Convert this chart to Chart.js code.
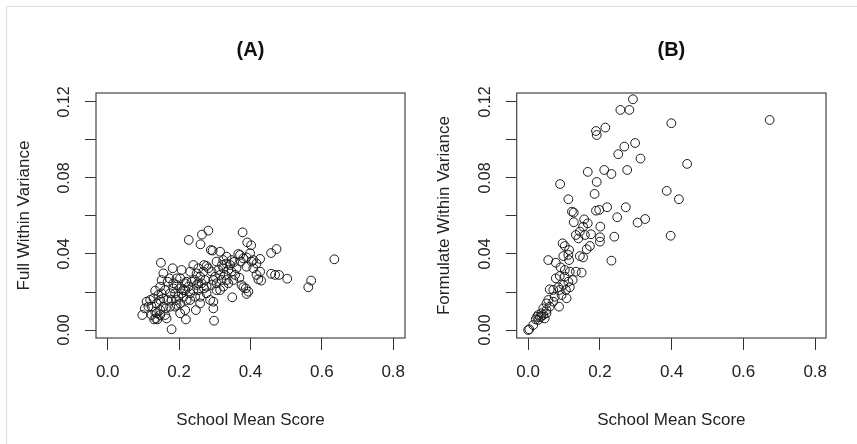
<!DOCTYPE html>
<html>
<head>
<meta charset="utf-8">
<script src="https://cdn.jsdelivr.net/npm/chart.js@4.4.1/dist/chart.umd.min.js"></script>
<style>
  html, body { margin: 0; padding: 0; background: #fff; }
  #page { position: relative; width: 857px; height: 444px; overflow: hidden; }
  #frame { position: absolute; left: 6px; top: 6px; width: 900px; height: 500px; border: 1px solid #ddd; }
  .panel { position: absolute; top: 0; height: 444px; }
</style>
</head>
<body>
<div id="page">
  <div id="frame"></div>
  <div class="panel" style="left:0;width:428px"><canvas id="chartA"></canvas></div>
  <div class="panel" style="left:420px;width:437px"><canvas id="chartB"></canvas></div>
</div>
<script>
(function () {
    "use strict";

    // panel (A): school mean score vs full within variance
    const schoolMeanA = [
        0.635, 0.570, 0.562, 0.503, 0.473, 0.458, 0.458, 0.469, 0.480, 0.427,
        0.427, 0.430, 0.422, 0.417, 0.403, 0.408, 0.378, 0.391, 0.402, 0.399,
        0.389, 0.380, 0.366, 0.373, 0.389, 0.394, 0.389, 0.387, 0.380, 0.369,
        0.375, 0.349, 0.354, 0.343, 0.333, 0.338, 0.324, 0.315, 0.329, 0.333,
        0.319, 0.310, 0.315, 0.296, 0.298, 0.296, 0.291, 0.287, 0.282, 0.264,
        0.260, 0.227, 0.289, 0.294, 0.277, 0.282, 0.273, 0.259, 0.270, 0.249,
        0.240, 0.231, 0.249, 0.259, 0.247, 0.219, 0.217, 0.207, 0.203, 0.221,
        0.212, 0.198, 0.203, 0.189, 0.179, 0.182, 0.173, 0.168, 0.156, 0.149,
        0.151, 0.147, 0.133, 0.165, 0.167, 0.163, 0.147, 0.137, 0.135, 0.139,
        0.130, 0.123, 0.109, 0.104, 0.097, 0.156, 0.175, 0.184, 0.193, 0.189,
        0.203, 0.217, 0.226, 0.235, 0.244, 0.254, 0.263, 0.240, 0.231, 0.212,
        0.221, 0.245, 0.231, 0.254, 0.277, 0.301, 0.305, 0.296, 0.315, 0.324,
        0.347, 0.357, 0.352, 0.361, 0.338, 0.291, 0.268, 0.254, 0.193, 0.184,
        0.179, 0.193, 0.175, 0.156, 0.151, 0.161, 0.142, 0.128, 0.119, 0.114,
        0.123, 0.133, 0.147, 0.161, 0.193, 0.207, 0.217, 0.147, 0.137, 0.203,
        0.259, 0.277, 0.305, 0.324, 0.270, 0.305, 0.320, 0.333, 0.347, 0.371,
        0.408, 0.417
    ];
    const fullVarA = [
        0.0372, 0.0260, 0.0225, 0.0270, 0.0426, 0.0405, 0.0296, 0.0290, 0.0290, 0.0374,
        0.0307, 0.0260, 0.0267, 0.0350, 0.0360, 0.0325, 0.0514, 0.0461, 0.0446, 0.0404,
        0.0382, 0.0377, 0.0400, 0.0360, 0.0333, 0.0202, 0.0190, 0.0219, 0.0225, 0.0275,
        0.0237, 0.0172, 0.0358, 0.0342, 0.0350, 0.0316, 0.0368, 0.0412, 0.0290, 0.0263,
        0.0263, 0.0316, 0.0210, 0.0114, 0.0049, 0.0149, 0.0237, 0.0158, 0.0523, 0.0502,
        0.0451, 0.0474, 0.0421, 0.0418, 0.0337, 0.0325, 0.0263, 0.0280, 0.0219, 0.0237,
        0.0342, 0.0307, 0.0298, 0.0175, 0.0105, 0.0056, 0.0105, 0.0316, 0.0272, 0.0254,
        0.0210, 0.0175, 0.0140, 0.0123, 0.0004, 0.0325, 0.0272, 0.0254, 0.0298, 0.0354,
        0.0263, 0.0228, 0.0207, 0.0061, 0.0158, 0.0114, 0.0158, 0.0140, 0.0061, 0.0056,
        0.0056, 0.0079, 0.0149, 0.0114, 0.0079, 0.0167, 0.0193, 0.0219, 0.0237, 0.0193,
        0.0219, 0.0246, 0.0228, 0.0254, 0.0263, 0.0246, 0.0246, 0.0210, 0.0193, 0.0175,
        0.0158, 0.0175, 0.0158, 0.0210, 0.0228, 0.0280, 0.0246, 0.0263, 0.0290, 0.0325,
        0.0307, 0.0290, 0.0263, 0.0325, 0.0246, 0.0307, 0.0307, 0.0325, 0.0272, 0.0246,
        0.0158, 0.0132, 0.0123, 0.0123, 0.0193, 0.0210, 0.0184, 0.0167, 0.0158, 0.0123,
        0.0123, 0.0096, 0.0105, 0.0079, 0.0158, 0.0193, 0.0210, 0.0079, 0.0088, 0.0088,
        0.0140, 0.0193, 0.0210, 0.0228, 0.0342, 0.0360, 0.0342, 0.0386, 0.0368, 0.0395,
        0.0368, 0.0290
    ];

    // panel (B): school mean score vs formulate within variance
    const schoolMeanB = [
        0.292, 0.257, 0.282, 0.673, 0.399, 0.189, 0.191, 0.215, 0.298, 0.268,
        0.251, 0.313, 0.443, 0.166, 0.212, 0.232, 0.276, 0.089, 0.191, 0.185,
        0.386, 0.420, 0.112, 0.122, 0.127, 0.189, 0.198, 0.220, 0.272, 0.248,
        0.305, 0.326, 0.397, 0.240, 0.201, 0.200, 0.200, 0.232, 0.127, 0.156,
        0.166, 0.153, 0.133, 0.144, 0.158, 0.175, 0.140, 0.172, 0.163, 0.153,
        0.144, 0.096, 0.102, 0.114, 0.112, 0.114, 0.098, 0.056, 0.077, 0.090,
        0.102, 0.116, 0.133, 0.149, 0.077, 0.088, 0.102, 0.112, 0.124, 0.098,
        0.084, 0.060, 0.070, 0.088, 0.105, 0.116, 0.093, 0.074, 0.056, 0.107,
        0.086, 0.051, 0.060, 0.070, 0.042, 0.051, 0.037, 0.025, 0.033, 0.042,
        0.021, 0.028, 0.046, 0.037, 0.014, 0.000, 0.003, 0.051, 0.028
    ];
    const formVarB = [
        0.1214, 0.1158, 0.1158, 0.1105, 0.1088, 0.1047, 0.1026, 0.1065, 0.0984, 0.0965,
        0.0925, 0.0902, 0.0874, 0.0832, 0.0842, 0.0821, 0.0842, 0.0768, 0.0779, 0.0716,
        0.0732, 0.0688, 0.0688, 0.0623, 0.0618, 0.0628, 0.0632, 0.0646, 0.0646, 0.0593,
        0.0565, 0.0584, 0.0496, 0.0491, 0.0544, 0.0488, 0.0465, 0.0365, 0.0567, 0.0582,
        0.0561, 0.0544, 0.0500, 0.0518, 0.0500, 0.0504, 0.0482, 0.0442, 0.0425, 0.0382,
        0.0389, 0.0456, 0.0442, 0.0421, 0.0395, 0.0368, 0.0389, 0.0368, 0.0354, 0.0330,
        0.0316, 0.0307, 0.0307, 0.0302, 0.0272, 0.0284, 0.0281, 0.0254, 0.0263, 0.0237,
        0.0225, 0.0214, 0.0211, 0.0211, 0.0211, 0.0225, 0.0184, 0.0175, 0.0158, 0.0167,
        0.0123, 0.0140, 0.0123, 0.0149, 0.0114, 0.0105, 0.0088, 0.0070, 0.0067, 0.0079,
        0.0056, 0.0053, 0.0061, 0.0074, 0.0026, 0.0000, 0.0004, 0.0088, 0.0079
    ];

    const yLabelTicks = [0, 0.04, 0.08, 0.12];
    const xLabel = "School Mean Score";
    const fontName = "'Liberation Sans', Arial, sans-serif";

    // draws the R-style box and the rotated y tick labels
    const rAxesPlugin = {
        id: "rAxes",
        afterDraw(chart) {
            const ctx = chart.ctx;
            const area = chart.chartArea;
            const yScale = chart.scales.y;
            ctx.save();
            ctx.strokeStyle = "#444";
            ctx.lineWidth = 1.2;
            ctx.strokeRect(area.left, area.top, area.right - area.left, area.bottom - area.top);
            ctx.fillStyle = "#222";
            ctx.font = "16px " + fontName;
            ctx.textAlign = "center";
            ctx.textBaseline = "middle";
            yLabelTicks.forEach(v => {
                const py = yScale.getPixelForValue(v);
                ctx.save();
                ctx.translate(area.left - 31, py);
                ctx.rotate(-Math.PI / 2);
                ctx.fillText(v.toFixed(2), 0, 0);
                ctx.restore();
            });
            ctx.restore();
        },
    };

    function createScatter(canvasId, title, yTitle, xs, ys, box) {
        const ctx = document.getElementById(canvasId);
        if (!ctx) return;

        const points = xs.map((x, i) => ({ x: x, y: ys[i] }));

        return new Chart(ctx.getContext("2d"), {
            type: "scatter",
            data: {
                datasets: [
                    {
                        data: points,
                        pointStyle: "circle",
                        pointRadius: 4.4,
                        pointBorderWidth: 1,
                        pointBorderColor: "#1a1a1a",
                        pointBackgroundColor: "rgba(0,0,0,0)",
                        pointHoverRadius: 4.4,
                    },
                ],
            },
            options: {
                responsive: true,
                maintainAspectRatio: false,
                animation: false,
                events: [],
                layout: { padding: { left: 0, right: box.right, top: 0, bottom: 0 } },
                plugins: {
                    legend: { display: false },
                    tooltip: { enabled: false },
                    title: {
                        display: true,
                        text: title,
                        fullSize: false,
                        color: "#111",
                        font: { family: fontName, size: 20, weight: "bold" },
                        padding: { top: 38, bottom: 31 },
                    },
                },
                scales: {
                    x: {
                        type: "linear",
                        min: box.xMin,
                        max: box.xMax,
                        border: { display: false },
                        grid: { drawOnChartArea: false, drawTicks: true, tickLength: 12, color: "#333", lineWidth: 1 },
                        ticks: {
                            stepSize: 0.2,
                            includeBounds: false,
                            padding: 12,
                            color: "#222",
                            font: { family: fontName, size: 17 },
                            callback: v => v.toFixed(1),
                        },
                        title: {
                            display: true,
                            text: xLabel,
                            color: "#222",
                            font: { family: fontName, size: 17 },
                            padding: { top: 0, bottom: 13 },
                        },
                        afterFit: scale => { scale.height = 106; },
                    },
                    y: {
                        type: "linear",
                        min: -0.0042,
                        max: 0.1247,
                        border: { display: false },
                        grid: { drawOnChartArea: false, drawTicks: true, tickLength: 11, color: "#333", lineWidth: 1 },
                        ticks: { stepSize: 0.02, includeBounds: false, display: false },
                        title: {
                            display: true,
                            text: yTitle,
                            color: "#222",
                            font: { family: fontName, size: 17 },
                            padding: { top: box.left - 72 - 10.2, bottom: 0 },
                        },
                        afterFit: scale => { scale.width = box.left; },
                    },
                },
            },
            plugins: [rAxesPlugin],
        });
    }

    createScatter("chartA", "(A)", "Full Within Variance", schoolMeanA, fullVarA,
        { left: 96, right: 23, xMin: -0.0328, xMax: 0.833 });
    createScatter("chartB", "(B)", "Formulate Within Variance", schoolMeanB, formVarB,
        { left: 96.7, right: 31, xMin: -0.032, xMax: 0.830 });
})();
</script>
</body>
</html>
